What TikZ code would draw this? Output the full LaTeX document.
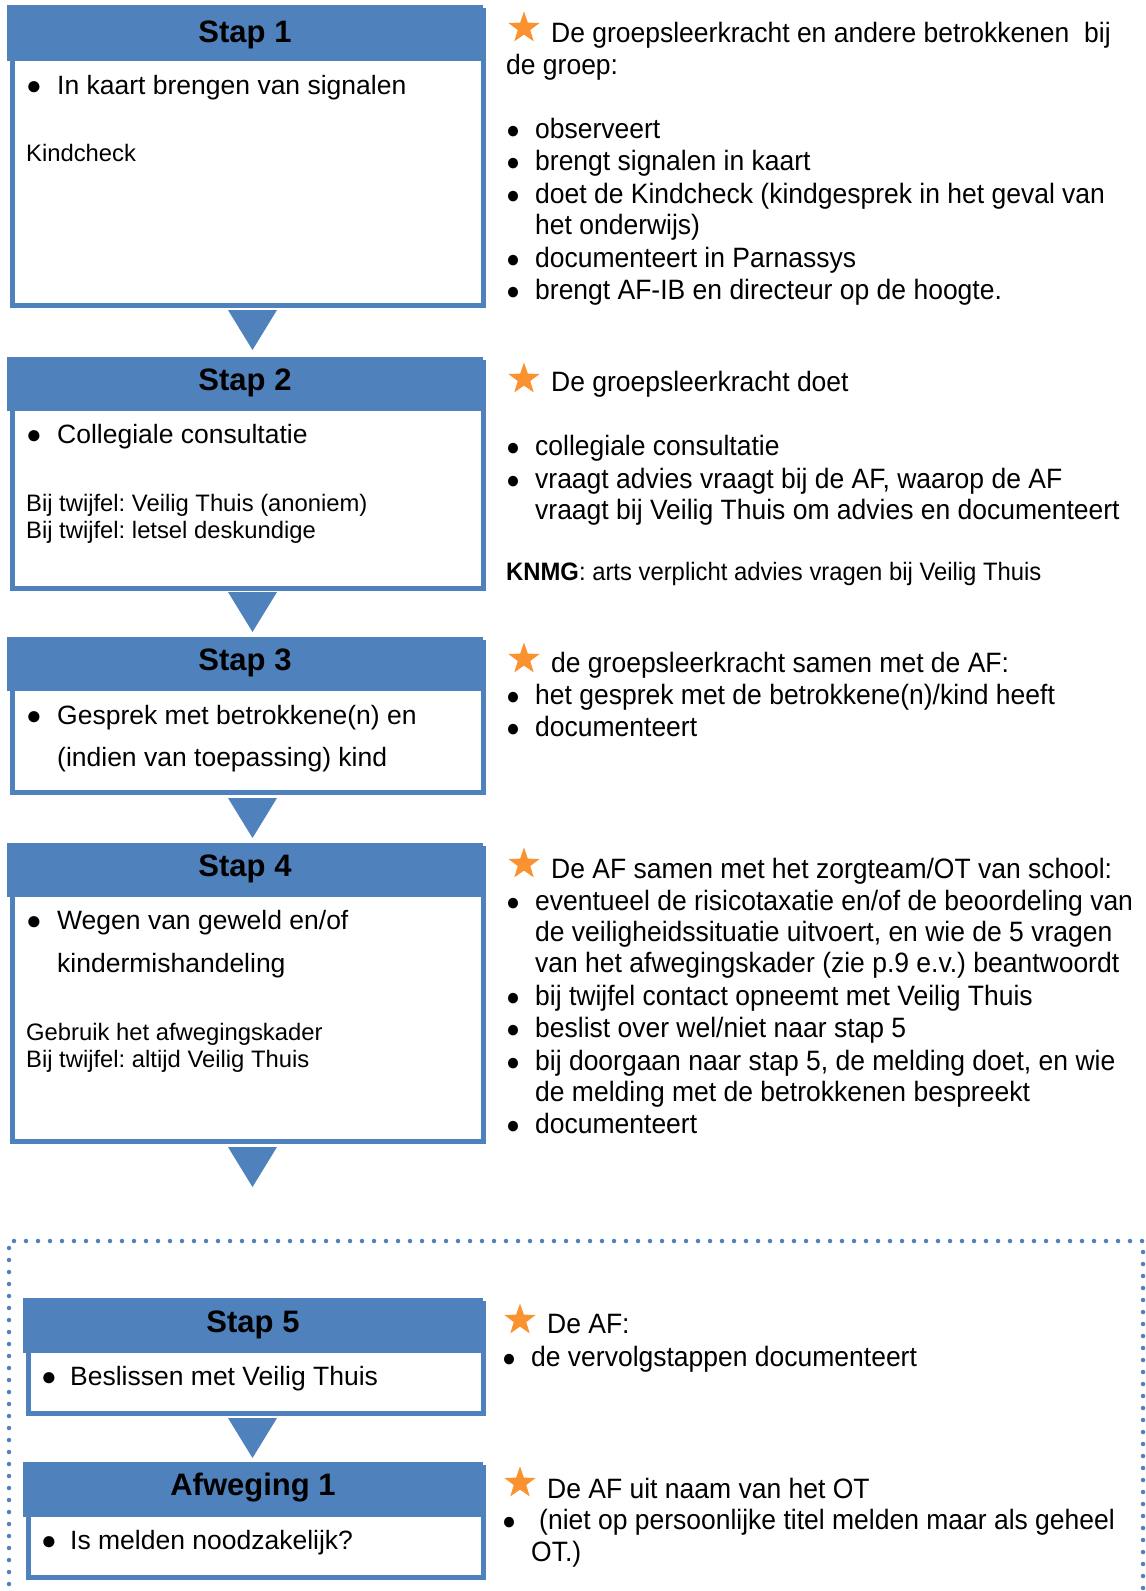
\documentclass[tikz,border=0pt]{standalone}
\usepackage{fontspec}
\setmainfont{Liberation Sans}
\newfontfamily\narrowfont[FakeStretch=0.946]{Liberation Sans}
\usetikzlibrary{shapes.geometric}
\frenchspacing
\definecolor{hblue}{RGB}{79,129,189}
\definecolor{starorange}{RGB}{250,146,48}
\newcommand\BulL[1]{\makebox[#1][l]{\fontsize{26}{26}\selectfont ●}}
\newcommand\BulR[1]{\makebox[#1][l]{\fontsize{24.5}{24.5}\selectfont ●}}
\tikzset{
  boxframe/.style={draw=hblue, line width=5pt, inner sep=0pt, anchor=north west},
  headfill/.style={fill=hblue, inner sep=0pt, anchor=north west},
  lt/.style={anchor=base west, inner sep=0pt, font=\fontsize{26.5}{30}\selectfont},
  ls/.style={anchor=base west, inner sep=0pt, font=\fontsize{23.8}{27}\selectfont},
  hd/.style={anchor=base, inner sep=0pt, font=\fontsize{31}{34}\selectfont\bfseries},
  rt/.style={anchor=base west, inner sep=0pt, font=\narrowfont\fontsize{28}{32}\selectfont},
  rs/.style={anchor=base west, inner sep=0pt, font=\narrowfont\fontsize{25.2}{28}\selectfont},
  staricon/.style={star, star points=5, star point ratio=2.5, fill=starorange, inner sep=0pt, minimum size=33pt},
  tri/.style={fill=hblue},
  dotline/.style={draw=hblue, line width=4.5pt, line cap=round, dash pattern=on 0pt off 12pt},
}
\begin{document}
\begin{tikzpicture}[x=1pt, y=-1pt]
\useasboundingbox (0,0) rectangle (1146,1591);
\clip (0,0) rectangle (1146,1591);

% ---------- Stap 1 ----------
\node[boxframe, minimum width=471pt, minimum height=295pt] (box1) at (9.5,7.5) {};
\node[headfill, minimum width=476pt, minimum height=56pt] (head1) at (7,5) {};
\node[hd] (t1) at (245,42) {Stap 1};
\node[lt] (l1a) at (26,94) {\BulL{31pt}In kaart brengen van signalen};
\node[ls] (l1b) at (26,161) {Kindcheck};
\coordinate (a1) at (252.5,310);
\fill[tri] (a1) ++(-24.5,0) -- ++(49,0) -- ++(-24.5,40) -- cycle;

% ---------- Stap 2 ----------
\node[boxframe, minimum width=471pt, minimum height=226pt] (box2) at (9.5,359.5) {};
\node[headfill, minimum width=476pt, minimum height=54pt] (head2) at (7,357) {};
\node[hd] (t2) at (245,390) {Stap 2};
\node[lt] (l2a) at (26,443) {\BulL{31pt}Collegiale consultatie};
\node[ls] (l2b) at (26,511) {Bij twijfel: Veilig Thuis (anoniem)};
\node[ls] (l2c) at (26,538) {Bij twijfel: letsel deskundige};
\coordinate (a2) at (252.5,592);
\fill[tri] (a2) ++(-24.5,0) -- ++(49,0) -- ++(-24.5,40) -- cycle;

% ---------- Stap 3 ----------
\node[boxframe, minimum width=471pt, minimum height=150pt] (box3) at (9.5,639.5) {};
\node[headfill, minimum width=476pt, minimum height=54pt] (head3) at (7,637) {};
\node[hd] (t3) at (245,670) {Stap 3};
\node[lt] (l3a) at (26,724) {\BulL{31pt}Gesprek met betrokkene(n) en};
\node[lt] (l3b) at (57,766) {(indien van toepassing) kind};
\coordinate (a3) at (252.5,798);
\fill[tri] (a3) ++(-24.5,0) -- ++(49,0) -- ++(-24.5,40) -- cycle;

% ---------- Stap 4 ----------
\node[boxframe, minimum width=471pt, minimum height=293pt] (box4) at (9.5,845.5) {};
\node[headfill, minimum width=476pt, minimum height=54pt] (head4) at (7,843) {};
\node[hd] (t4) at (245,876) {Stap 4};
\node[lt] (l4a) at (26,929) {\BulL{31pt}Wegen van geweld en/of};
\node[lt] (l4b) at (57,972) {kindermishandeling};
\node[ls] (l4c) at (26,1040) {Gebruik het afwegingskader};
\node[ls] (l4d) at (26,1067) {Bij twijfel: altijd Veilig Thuis};
\coordinate (a4) at (252.5,1147);
\fill[tri] (a4) ++(-24.5,0) -- ++(49,0) -- ++(-24.5,40) -- cycle;

% ---------- dotted frame ----------
\draw[dotline] (9,1620) -- (9,1241) -- (1143,1241) -- (1143,1620);

% ---------- Stap 5 ----------
\node[boxframe, minimum width=455pt, minimum height=110pt] (box5) at (25.5,1300.5) {};
\node[headfill, minimum width=460pt, minimum height=55pt] (head5) at (23,1298) {};
\node[hd] (t5) at (253,1332) {Stap 5};
\node[lt] (l5a) at (41,1385) {\BulL{29pt}Beslissen met Veilig Thuis};
\coordinate (a5) at (252.5,1418);
\fill[tri] (a5) ++(-24.5,0) -- ++(49,0) -- ++(-24.5,40) -- cycle;

% ---------- Afweging 1 ----------
\node[boxframe, minimum width=455pt, minimum height=110pt] (box6) at (25.5,1464.5) {};
\node[headfill, minimum width=460pt, minimum height=55pt] (head6) at (23,1462) {};
\node[hd] (t6) at (253,1495) {Afweging 1};
\node[lt] (l6a) at (41,1549) {\BulL{29pt}Is melden noodzakelijk?};

% ---------- right column, block 1 ----------
\node[staricon] (st1) at (524,28) {};
\node[rt] (r1a) at (551,42) {De groepsleerkracht en andere betrokkenen\ \ bij};
\node[rt] (r1b) at (506,74) {de groep:};
\node[rt] (r1c) at (506,138) {\BulR{29pt}observeert};
\node[rt] (r1d) at (506,170) {\BulR{29pt}brengt signalen in kaart};
\node[rt] (r1e) at (506,203) {\BulR{29pt}doet de Kindcheck (kindgesprek in het geval van};
\node[rt] (r1f) at (535,234) {het onderwijs)};
\node[rt] (r1g) at (506,267) {\BulR{29pt}documenteert in Parnassys};
\node[rt] (r1h) at (506,299) {\BulR{29pt}brengt AF-IB en directeur op de hoogte.};

% ---------- block 2 ----------
\node[staricon] (st2) at (524,379) {};
\node[rt] (r2a) at (551,391) {De groepsleerkracht doet};
\node[rt] (r2b) at (506,455) {\BulR{29pt}collegiale consultatie};
\node[rt] (r2c) at (506,488) {\BulR{29pt}vraagt advies vraagt bij de AF, waarop de AF};
\node[rt] (r2d) at (535,519) {vraagt bij Veilig Thuis om advies en documenteert};
\node[rs] (r2e) at (506,580) {\textbf{KNMG}: arts verplicht advies vragen bij Veilig Thuis};

% ---------- block 3 ----------
\node[staricon] (st3) at (524,659) {};
\node[rt] (r3a) at (551,672) {de groepsleerkracht samen met de AF:};
\node[rt] (r3b) at (506,704) {\BulR{29pt}het gesprek met de betrokkene(n)/kind heeft};
\node[rt] (r3c) at (506,736) {\BulR{29pt}documenteert};

% ---------- block 4 ----------
\node[staricon] (st4) at (524,864) {};
\node[rt] (r4a) at (551,878) {De AF samen met het zorgteam/OT van school:};
\node[rt] (r4b) at (506,910) {\BulR{29pt}eventueel de risicotaxatie en/of de beoordeling van};
\node[rt] (r4c) at (535,941) {de veiligheidssituatie uitvoert, en wie de 5 vragen};
\node[rt] (r4d) at (535,972) {van het afwegingskader (zie p.9 e.v.) beantwoordt};
\node[rt] (r4e) at (506,1005) {\BulR{29pt}bij twijfel contact opneemt met Veilig Thuis};
\node[rt] (r4f) at (506,1037) {\BulR{29pt}beslist over wel/niet naar stap 5};
\node[rt] (r4g) at (506,1070) {\BulR{29pt}bij doorgaan naar stap 5, de melding doet, en wie};
\node[rt] (r4h) at (535,1101) {de melding met de betrokkenen bespreekt};
\node[rt] (r4i) at (506,1133) {\BulR{29pt}documenteert};

% ---------- block 5 ----------
\node[staricon] (st5) at (520,1320) {};
\node[rt] (r5a) at (547,1333) {De AF:};
\node[rt] (r5b) at (502,1366) {\BulR{29pt}de vervolgstappen documenteert};

% ---------- block 6 ----------
\node[staricon] (st6) at (520,1483) {};
\node[rt] (r6a) at (547,1498) {De AF uit naam van het OT};
\node[rt] (r6b) at (502,1529) {\BulR{37pt}(niet op persoonlijke titel melden maar als geheel};
\node[rt] (r6c) at (531,1561) {OT.)};
\end{tikzpicture}
\end{document}
